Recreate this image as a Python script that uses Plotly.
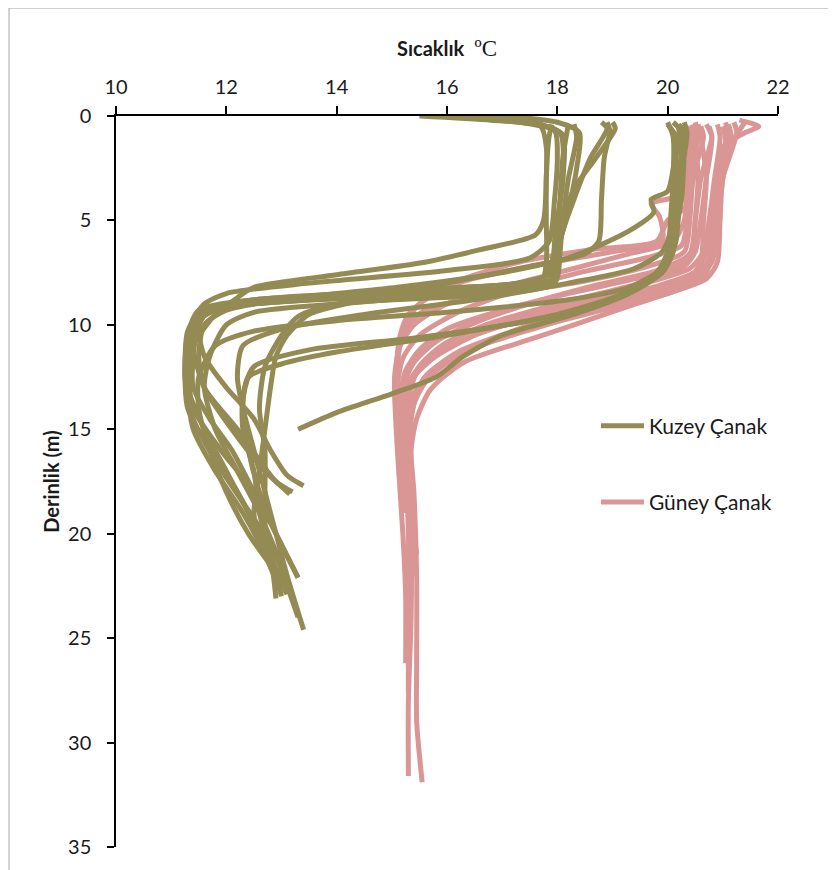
import plotly.graph_objects as go

# ---------------- Kuzey Çanak profiles (depth m, temperature °C) ----------------
k01_depth = [0, 0.2, 0.5, 1.5, 3, 5, 5.7, 6.4, 7.0, 7.6, 8.2, 8.7, 9.5, 11, 13, 15, 17, 19, 21, 22.9]
k01_temp = [15.5, 16.8, 17.7, 17.8, 17.8, 17.75, 17.6, 16.6, 15.6, 14.0, 12.5, 12.2, 11.8, 11.4, 11.3, 11.4, 11.8, 12.3, 12.7, 13.0]
k02_depth = [0, 0.3, 0.7, 2, 4, 6, 6.8, 7.4, 8.0, 8.5, 9.0, 9.8, 11, 13, 15, 17, 19, 21, 23.0]
k02_temp = [15.8, 17.3, 17.95, 18.0, 17.95, 17.85, 17.5, 16.0, 13.5, 12.0, 11.6, 11.4, 11.3, 11.3, 11.6, 12.0, 12.4, 12.8, 13.0]
k03_depth = [0, 0.4, 0.9, 3, 5, 7, 7.8, 8.3, 8.8, 9.3, 10, 12, 14, 16, 18, 20, 22.1]
k03_temp = [16.5, 17.7, 18.1, 18.1, 18.0, 17.9, 17.7, 15.5, 12.5, 11.6, 11.4, 11.3, 11.4, 11.9, 12.5, 12.9, 13.3]
k04_depth = [0, 0.3, 0.8, 2.5, 4.5, 6.5, 7.8, 8.5, 8.9, 9.3, 10, 11.5, 13, 14.5, 16, 17.2, 17.7]
k04_temp = [17.0, 18.0, 18.4, 18.35, 18.2, 18.0, 17.9, 16.0, 13.0, 11.7, 11.5, 11.6, 12.0, 12.5, 12.8, 13.1, 13.4]
k05_depth = [0.4, 1, 3, 5, 7, 8, 8.6, 9.0, 9.5, 10.3, 12, 14, 16, 18, 20, 22.9]
k05_temp = [17.9, 17.85, 17.8, 17.8, 17.8, 17.7, 15.0, 12.2, 11.5, 11.3, 11.25, 11.3, 11.7, 12.2, 12.6, 13.1]
k06_depth = [0.4, 2, 4, 6, 7.5, 8.3, 8.8, 9.2, 9.8, 11, 13, 15, 16.5, 17.5, 18.0]
k06_temp = [18.2, 18.1, 18.05, 18.0, 17.9, 16.5, 13.5, 11.9, 11.5, 11.4, 11.6, 12.2, 12.6, 12.9, 13.2]
k07_depth = [0.3, 0.6, 2, 4, 5.5, 6.5, 7.5, 8.3, 8.9, 9.4, 10, 11.5, 13, 15, 17, 19, 21.5]
k07_temp = [18.8, 18.9, 18.6, 18.3, 18.1, 18.0, 17.9, 17.0, 14.5, 12.5, 12.0, 11.7, 11.6, 11.8, 12.2, 12.6, 13.0]
k08_depth = [0.3, 0.6, 2, 3.5, 5, 6.5, 8.0, 8.6, 9.0, 9.6, 10.5, 12, 14, 16, 18, 20.4]
k08_temp = [19.0, 19.05, 18.7, 18.3, 18.1, 18.05, 17.95, 16.5, 14.0, 13.3, 13.0, 12.7, 12.6, 12.7, 12.7, 12.7]
k09_depth = [0.3, 0.7, 2, 4, 6.0, 6.6, 7.2, 8.0, 8.8, 9.5, 10.5, 11.5, 13, 15, 17, 19, 20.5]
k09_temp = [18.9, 18.95, 18.85, 18.8, 18.75, 18.5, 17.5, 16.0, 14.5, 13.5, 13.1, 12.9, 12.8, 12.7, 12.6, 12.5, 12.6]
k10_depth = [0.3, 0.6, 2, 4, 5.5, 6.5, 7.3, 8.0, 8.8, 9.5, 10.2, 11, 12.5, 14, 16, 18, 20, 22, 24.6]
k10_temp = [20.1, 20.2, 20.15, 20.1, 20.05, 19.9, 19.4, 18.2, 16.5, 14.5, 13.0, 12.3, 12.2, 12.3, 12.5, 12.7, 12.9, 13.1, 13.4]
k11_depth = [0.4, 0.8, 2.5, 4.5, 6.0, 7.0, 7.8, 8.8, 9.8, 10.6, 11.2, 12, 13.5, 15, 17, 19, 21, 23.1]
k11_temp = [20.2, 20.3, 20.25, 20.2, 20.15, 20.0, 19.7, 19.0, 17.5, 15.5, 13.5, 12.5, 12.3, 12.3, 12.5, 12.6, 12.8, 12.9]
k12_depth = [0.3, 1, 3, 5, 6.5, 7.5, 8.5, 9.5, 10.5, 11.3, 11.8, 12.5, 14, 16, 18, 20, 22.1]
k12_temp = [20.0, 20.1, 20.1, 20.05, 20.0, 19.8, 19.2, 18.0, 16.0, 14.0, 13.1, 12.4, 12.3, 12.4, 12.6, 12.9, 13.3]
k13_depth = [0.5, 1.5, 3, 5, 6.5, 7.5, 8.5, 9.5, 10.5, 11.5, 12.5, 13.3, 14.2, 15.0]
k13_temp = [20.2, 20.25, 20.2, 20.15, 20.1, 19.9, 19.3, 18.3, 17.0, 16.3, 15.8, 15.0, 14.0, 13.3]
k14_depth = [0.4, 1, 2.5, 3.6, 4.0, 4.6, 5.5, 6.7, 7.5, 8.2, 8.8, 9.3, 10, 11.5, 13, 15, 17, 18.1]
k14_temp = [20.0, 20.15, 20.1, 20.0, 19.7, 19.75, 19.3, 18.3, 17.0, 15.1, 13.0, 12.0, 11.6, 11.5, 11.6, 12.1, 12.7, 13.15]
k15_depth = [0.3, 0.8, 2, 4, 5.9, 7.0, 7.5, 8.2, 8.8, 9.4, 9.8, 10.3, 11, 12.5, 14, 16, 18, 20, 21.5]
k15_temp = [20.3, 20.35, 20.3, 20.25, 20.1, 19.95, 19.8, 19.3, 18.2, 16.0, 14.0, 12.5, 11.8, 11.5, 11.5, 11.7, 12.0, 12.4, 12.8]
k16_depth = [0, 0.3, 0.8, 3, 6, 7.5, 8.0, 8.4, 8.8, 9.3, 10.5, 12.5, 14.5, 16.5, 18.5, 20.5, 22.5, 24.0]
k16_temp = [16.0, 17.5, 18.05, 18.1, 17.95, 17.9, 17.3, 15.0, 12.5, 11.5, 11.3, 11.25, 11.4, 11.8, 12.3, 12.8, 13.1, 13.3]
k17_depth = [0.4, 1, 3, 5, 7, 8.0, 8.5, 8.9, 9.3, 10, 11.5, 13, 14.5, 16, 18, 19.5]
k17_temp = [18.3, 18.35, 18.2, 18.1, 18.0, 17.9, 16.0, 12.8, 11.7, 11.5, 11.4, 11.4, 11.7, 12.1, 12.5, 12.8]

# ---------------- Güney Çanak profiles ----------------
g01_depth = [0.5, 1.5, 3, 5, 6.5, 7.3, 8.0, 8.7, 9.3, 10, 11, 12, 14, 17, 21.0]
g01_temp = [20.4, 20.5, 20.45, 20.4, 20.3, 19.5, 18.3, 16.5, 15.6, 15.3, 15.15, 15.1, 15.1, 15.25, 15.45]
g02_depth = [0.3, 1, 2.5, 3.8, 4.2, 4.8, 6, 6.5, 7.2, 8, 9, 10.2, 11.5, 13, 16, 20, 23, 26.2]
g02_temp = [20.5, 20.55, 20.4, 20.2, 19.7, 19.85, 19.9, 19.0, 17.5, 16.2, 15.5, 15.2, 15.1, 15.05, 15.1, 15.2, 15.25, 15.25]
g03_depth = [0.4, 1, 3, 5, 6.5, 7.2, 8, 9, 10, 11, 12, 13.5, 16, 20, 24, 27.6]
g03_temp = [20.7, 20.8, 20.7, 20.6, 20.5, 20.3, 19.5, 18.0, 16.7, 15.9, 15.5, 15.3, 15.25, 15.3, 15.3, 15.3]
g04_depth = [0.5, 1.2, 3, 5, 6.5, 7.5, 8.2, 9, 10, 11, 12, 13, 14.5, 17, 20, 24, 28, 31.6]
g04_temp = [21.0, 21.05, 20.9, 20.8, 20.7, 20.5, 20.0, 19.0, 17.8, 16.6, 15.9, 15.5, 15.35, 15.3, 15.35, 15.35, 15.3, 15.3]
g05_depth = [0.2, 0.5, 0.8, 1.5, 3, 5, 6.5, 7.5, 8.2, 9.1, 10.0, 10.7, 11.8, 13.1, 14.5, 16, 18, 22, 26, 29, 31.9]
g05_temp = [21.3, 21.65, 21.4, 21.0, 20.9, 20.85, 20.8, 20.7, 20.3, 19.3, 18.3, 17.5, 16.3, 15.7, 15.45, 15.35, 15.4, 15.45, 15.45, 15.45, 15.55]
g06_depth = [0.4, 1, 3, 5, 6.0, 6.6, 7.3, 8.2, 9, 10, 11, 12.5, 15, 19]
g06_temp = [20.3, 20.4, 20.35, 20.3, 20.1, 19.3, 18.3, 17.0, 16.0, 15.4, 15.15, 15.05, 15.1, 15.2]
g07_depth = [0.4, 1, 3, 5, 6.5, 7.3, 8.0, 8.8, 9.5, 10.5, 11.5, 12.5, 14, 17, 20]
g07_temp = [20.9, 20.95, 20.85, 20.75, 20.65, 20.4, 19.6, 18.5, 17.5, 16.5, 15.8, 15.4, 15.25, 15.3, 15.35]
g08_depth = [0.3, 0.8, 3, 5, 7, 7.8, 8.5, 9.3, 10.2, 11.2, 12.3, 13.3, 14.5, 17, 19]
g08_temp = [21.2, 21.25, 21.0, 20.95, 20.9, 20.7, 20.0, 18.8, 17.5, 16.4, 15.7, 15.4, 15.3, 15.3, 15.35]
g09_depth = [0.5, 1, 2.5, 4.3, 5, 6, 6.4, 7, 7.8, 8.6, 9.5, 10.5, 11.5, 13, 16, 18]
g09_temp = [20.6, 20.65, 20.5, 20.35, 20.0, 19.8, 18.6, 17.3, 16.3, 15.7, 15.3, 15.15, 15.1, 15.1, 15.15, 15.2]
g10_depth = [0.3, 1, 3, 5, 7, 8, 8.8, 9.6, 10.5, 11.5, 12.5, 13.5, 15, 18, 22]
g10_temp = [21.05, 21.1, 21.0, 20.9, 20.8, 20.4, 19.3, 18.2, 17.0, 16.1, 15.6, 15.4, 15.3, 15.35, 15.4]
g11_depth = [0.4, 1, 3, 5, 6.5, 7.2, 7.8, 8.5, 9.3, 10.2, 11.2, 12.2, 13.5, 16, 19]
g11_temp = [20.45, 20.5, 20.55, 20.5, 20.45, 20.2, 19.4, 18.2, 17.0, 16.0, 15.5, 15.25, 15.15, 15.2, 15.25]
g12_depth = [0.3, 0.7, 2, 4, 6, 7, 7.6, 8.4, 9.4, 10.3, 11.3, 12.4, 13.8, 16, 20]
g12_temp = [21.4, 21.3, 21.0, 20.9, 20.85, 20.75, 20.4, 19.5, 18.2, 17.2, 16.3, 15.7, 15.4, 15.3, 15.35]
g13_depth = [0.5, 1, 3, 5, 6.6, 7.4, 8.1, 8.9, 9.8, 10.8, 11.8, 13, 15, 18]
g13_temp = [20.75, 20.8, 20.6, 20.5, 20.4, 19.8, 18.7, 17.6, 16.6, 15.8, 15.4, 15.2, 15.15, 15.2]
g14_depth = [0.4, 1, 3, 5, 7, 7.7, 8.3, 9.0, 9.8, 10.7, 11.7, 12.8, 14, 17]
g14_temp = [20.55, 20.6, 20.7, 20.65, 20.6, 20.4, 19.6, 18.4, 17.3, 16.3, 15.6, 15.3, 15.2, 15.25]
g15_depth = [0.4, 1, 3, 5, 6.8, 7.6, 8.4, 9.3, 10.3, 11.3, 12.5, 14, 16.5]
g15_temp = [21.1, 21.15, 20.95, 20.85, 20.75, 20.55, 19.8, 18.5, 17.2, 16.2, 15.6, 15.35, 15.3]
g16_depth = [0.5, 1.2, 3, 5, 6.2, 6.8, 7.5, 8.4, 9.4, 10.5, 11.6, 13, 15]
g16_temp = [20.35, 20.45, 20.4, 20.35, 20.25, 19.6, 18.4, 17.2, 16.2, 15.5, 15.2, 15.1, 15.1]

kuzey_profiles = [
    (k01_temp, k01_depth), (k02_temp, k02_depth), (k03_temp, k03_depth), (k04_temp, k04_depth),
    (k05_temp, k05_depth), (k06_temp, k06_depth), (k07_temp, k07_depth), (k08_temp, k08_depth),
    (k09_temp, k09_depth), (k10_temp, k10_depth), (k11_temp, k11_depth), (k12_temp, k12_depth),
    (k13_temp, k13_depth), (k14_temp, k14_depth), (k15_temp, k15_depth), (k16_temp, k16_depth),
    (k17_temp, k17_depth),
]
guney_profiles = [
    (g01_temp, g01_depth), (g02_temp, g02_depth), (g03_temp, g03_depth), (g04_temp, g04_depth),
    (g05_temp, g05_depth), (g06_temp, g06_depth), (g07_temp, g07_depth), (g08_temp, g08_depth),
    (g09_temp, g09_depth), (g10_temp, g10_depth), (g11_temp, g11_depth), (g12_temp, g12_depth),
    (g13_temp, g13_depth), (g14_temp, g14_depth), (g15_temp, g15_depth), (g16_temp, g16_depth),
]

x_ticks = [10, 12, 14, 16, 18, 20, 22]
y_ticks = [0, 5, 10, 15, 20, 25, 30, 35]

KUZEY_COLOR = "#948A54"
GUNEY_COLOR = "#D99694"
FONT = "Lato, 'Open Sans', sans-serif"

fig = go.Figure()

for i, (t, d) in enumerate(guney_profiles):
    fig.add_trace(go.Scatter(
        x=t, y=d, mode="lines", name="Güney Çanak", legendgroup="g", legendrank=2,
        showlegend=(i == 0),
        line=dict(color=GUNEY_COLOR, width=5, shape="spline", smoothing=0.7),
        hoverinfo="skip",
    ))
for i, (t, d) in enumerate(kuzey_profiles):
    fig.add_trace(go.Scatter(
        x=t, y=d, mode="lines", name="Kuzey Çanak", legendgroup="k", legendrank=1,
        showlegend=(i == 0),
        line=dict(color=KUZEY_COLOR, width=5, shape="spline", smoothing=0.7),
        hoverinfo="skip",
    ))

# The page body has an 8px margin, so the figure is 8px smaller and margins 8px less.
fig.update_layout(
    width=828, height=862,
    margin=dict(l=108, r=58, t=108, b=23),
    paper_bgcolor="white", plot_bgcolor="white",
    font=dict(family=FONT, size=20, color="#1a1a1a"),
    legend=dict(
        x=0.725, y=0.604, xanchor="left", yanchor="top",
        font=dict(size=21, color="#1a1a1a"),
        tracegroupgap=46, bgcolor="rgba(0,0,0,0)",
        traceorder="grouped", itemwidth=43,
    ),
    xaxis=dict(
        side="top", range=[10, 22], tickvals=x_ticks,
        showline=True, linecolor="black", linewidth=1.5,
        ticks="outside", ticklen=8, tickwidth=1.5, tickcolor="black",
        showgrid=False, zeroline=False,
        title=dict(text="<b>Sıcaklık</b>  <span style='font-family:Liberation Serif;font-size:23px'>ºC</span>",
                   font=dict(size=20), standoff=12),
        ticklabelstandoff=4,
    ),
    yaxis=dict(
        range=[35, 0], tickvals=y_ticks,
        showline=True, linecolor="black", linewidth=1.5,
        ticks="outside", ticklen=7, tickwidth=1.5, tickcolor="black",
        showgrid=False, zeroline=False,
        title=dict(text="<b>Derinlik (m)</b>", font=dict(size=20), standoff=3),
        ticklabelstandoff=12,
    ),
    shapes=[dict(type="rect", xref="paper", yref="paper",
                 x0=-0.1616, x1=1.2, y0=-0.08, y1=1.1477,
                 line=dict(color="#A6A6A6", width=1), fillcolor="rgba(0,0,0,0)",
                 layer="below")],
)

fig.write_html("out.html")
